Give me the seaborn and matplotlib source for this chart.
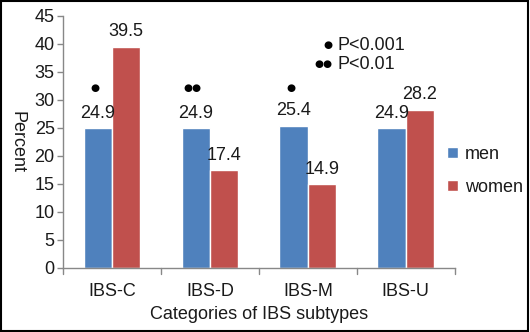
import matplotlib
matplotlib.use("Agg")
import matplotlib.pyplot as plt
import seaborn as sns
import pandas as pd

categories = ["IBS-C", "IBS-D", "IBS-M", "IBS-U"]
men = [24.9, 24.9, 25.4, 24.9]
women = [39.5, 17.4, 14.9, 28.2]
significance = ["\u25cf", "\u25cf\u25cf", "\u25cf", ""]
series_names = ["men", "women"]
colors = ["#4F81BD", "#C0504D"]

df = pd.DataFrame({
    "category": categories * 2,
    "sex": [series_names[0]] * 4 + [series_names[1]] * 4,
    "value": men + women,
})

sns.set_theme(style="white")
plt.rcParams["font.family"] = ["Liberation Sans", "DejaVu Sans"]

FS = 13
TXT = "#1a1a1a"

fig = plt.figure(figsize=(5.3, 3.32), dpi=100)
ax = fig.add_axes([0.119, 0.193, 0.739, 0.759])

sns.barplot(data=df, x="category", y="value", hue="sex", palette=colors,
            width=0.58, saturation=1, ax=ax, legend=True)

ax.set_ylim(0, 45)
ax.set_xlim(-0.5, 3.5)
ax.set_yticks(range(0, 46, 5))
ax.tick_params(axis="y", labelsize=FS, length=4, width=1, color="#888888",
               left=True, pad=2, labelcolor=TXT)
ax.tick_params(axis="x", labelsize=FS, bottom=False, pad=5, labelcolor=TXT)
# category boundary ticks along the x axis
for xb in [-0.5, 0.5, 1.5, 2.5, 3.5]:
    ax.plot([xb, xb], [0, -1.0], color="#888888", lw=1, clip_on=False)

for side in ["top", "right"]:
    ax.spines[side].set_visible(False)
for side in ["left", "bottom"]:
    ax.spines[side].set_color("#888888")
    ax.spines[side].set_linewidth(1)

ax.set_xlabel("Categories of IBS subtypes", fontsize=FS, labelpad=4, color=TXT)
ax.set_ylabel("Percent", fontsize=FS, rotation=270, color=TXT)
ax.yaxis.set_label_coords(-0.14, 0.5)

# value labels above each bar
for cont in ax.containers:
    ax.bar_label(cont, fmt="%.1f", padding=5, fontsize=FS, color=TXT)

# significance markers above the men bars
half = 0.58 / 4
for i, mark in enumerate(significance):
    if mark:
        ax.text(i - half - 0.03, 32.2, mark, ha="center", va="center",
                fontsize=7.5, color="black", family=["DejaVu Sans"])

ax.text(2.25, 39.8, "\u25cf", ha="right", va="center", fontsize=7.5,
        family=["DejaVu Sans"], color="black")
ax.text(2.30, 39.8, "P<0.001", ha="left", va="center", fontsize=FS, color=TXT)
ax.text(2.25, 36.4, "\u25cf\u25cf", ha="right", va="center", fontsize=7.5,
        family=["DejaVu Sans"], color="black")
ax.text(2.30, 36.4, "P<0.01", ha="left", va="center", fontsize=FS, color=TXT)

leg = ax.legend(loc="center left", bbox_to_anchor=(0.98, 0.385), frameon=False,
                fontsize=FS, handlelength=0.6, handleheight=0.6,
                handletextpad=0.4, labelspacing=0.9, borderpad=0,
                borderaxespad=0)
for t in leg.get_texts():
    t.set_color(TXT)

# outer frame around the whole figure
fig.patches.append(plt.Rectangle((0.002, 0.003), 0.995, 0.994, transform=fig.transFigure,
                                 fill=False, edgecolor="black", lw=1.5))

fig.savefig("out.png", dpi=100, facecolor="white")
